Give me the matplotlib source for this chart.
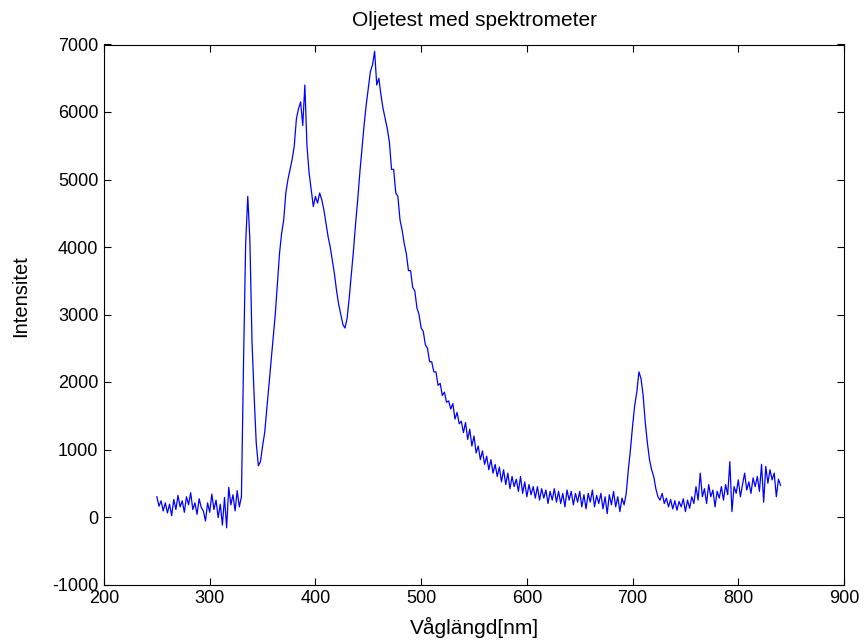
import numpy as np
import matplotlib
matplotlib.use("Agg")
import matplotlib.pyplot as plt

plt.rcParams['font.family'] = ['Liberation Sans', 'DejaVu Sans']
plt.rcParams['axes.unicode_minus'] = False

# wavelength grid (nm) of the spectrometer samples
wl_start, wl_stop, wl_step = 250, 840, 2

intensity = [
    300, 160, 240, 90, 210, 60, 190, 20, 260, 110,          # 250-268
    320, 150, 240, 70, 300, 180, 360, 110, 210, 40,         # 270-288
    270, 140, 90, -60, 210, 70, 340, 110, 250, -10,         # 290-308
    190, -120, 290, -160, 440, 180, 330, 90, 390, 150,      # 310-328
    300, 2300, 4050, 4750, 4100, 2600, 1800, 1100, 760, 820,  # 330-348
    1050, 1250, 1600, 1950, 2300, 2650, 3000, 3450, 3900, 4200,  # 350-368
    4400, 4800, 5000, 5150, 5300, 5500, 5900, 6050, 6150, 5800,  # 370-388
    6400, 5500, 5100, 4850, 4600, 4750, 4650, 4800, 4700, 4550,  # 390-408
    4350, 4150, 4000, 3800, 3600, 3350, 3150, 3000, 2850, 2800,  # 410-428
    2950, 3250, 3600, 3950, 4350, 4700, 5100, 5450, 5800, 6100,  # 430-448
    6350, 6600, 6700, 6900, 6400, 6500, 6250, 6050, 5900, 5750,  # 450-468
    5550, 5150, 5150, 4800, 4750, 4400, 4250, 4050, 3900, 3650,  # 470-488
    3650, 3400, 3350, 3100, 3000, 2800, 2750, 2550, 2500, 2300,  # 490-508
    2300, 2150, 2150, 1950, 1980, 1800, 1850, 1700, 1720, 1600,  # 510-528
    1680, 1450, 1550, 1380, 1420, 1250, 1400, 1150, 1300, 1050,  # 530-548
    1200, 950, 1050, 850, 980, 780, 900, 700, 850, 650,      # 550-568
    780, 600, 740, 520, 700, 480, 650, 420, 600, 450,        # 570-588
    560, 380, 600, 350, 520, 300, 480, 330, 450, 280,        # 590-608
    450, 250, 420, 280, 400, 200, 380, 250, 420, 220,        # 610-628
    380, 200, 350, 150, 400, 250, 380, 180, 350, 220,        # 630-648
    380, 150, 330, 120, 350, 220, 400, 150, 320, 200,        # 650-668
    350, 120, 300, 50, 330, 180, 380, 150, 300, 80,          # 670-688
    280, 180, 350, 700, 1000, 1350, 1650, 1850, 2150, 2050,  # 690-708
    1800, 1400, 1100, 850, 700, 600, 420, 300, 250, 350,     # 710-728
    200, 280, 150, 260, 120, 240, 100, 230, 150, 270,        # 730-748
    80, 250, 130, 300, 200, 450, 250, 650, 300, 420,         # 750-768
    200, 480, 300, 400, 150, 380, 280, 450, 250, 480,        # 770-788
    330, 820, 80, 450, 350, 550, 300, 480, 650, 400,         # 790-808
    520, 350, 580, 450, 600, 380, 780, 220, 750, 500,        # 810-828
    700, 550, 650, 300, 560, 470,                            # 830-840
]

wavelength = np.arange(wl_start, wl_stop + 1, wl_step)

title_text = "Oljetest med spektrometer"
xlabel_text = "Våglängd[nm]"
ylabel_text = "Intensitet"
xticks = [200, 300, 400, 500, 600, 700, 800, 900]
yticks = [-1000, 0, 1000, 2000, 3000, 4000, 5000, 6000, 7000]

fig = plt.figure(figsize=(8.66, 6.44), dpi=100)
ax = fig.add_axes([104/866, (644-584.5)/644, (844-104)/866, (584.5-44.5)/644])
ax.plot(wavelength, intensity, color=(0, 0, 1), linewidth=0.9)

ax.set_xlim(200, 900)
ax.set_ylim(-1000, 7000)
ax.set_xticks(xticks)
ax.set_yticks(yticks)
ax.tick_params(direction='in', length=5, width=0.8, top=True, right=True,
               labelsize=13, pad=4, colors='black')
for s in ax.spines.values():
    s.set_linewidth(0.8)

ax.set_title(title_text, fontsize=15, pad=13)
ax.set_xlabel(xlabel_text, fontsize=15, labelpad=7)
ax.set_ylabel(ylabel_text, fontsize=14.5, labelpad=10)
ax.yaxis.set_label_coords(-0.1, 0.535)

fig.savefig("out.png", dpi=100)
